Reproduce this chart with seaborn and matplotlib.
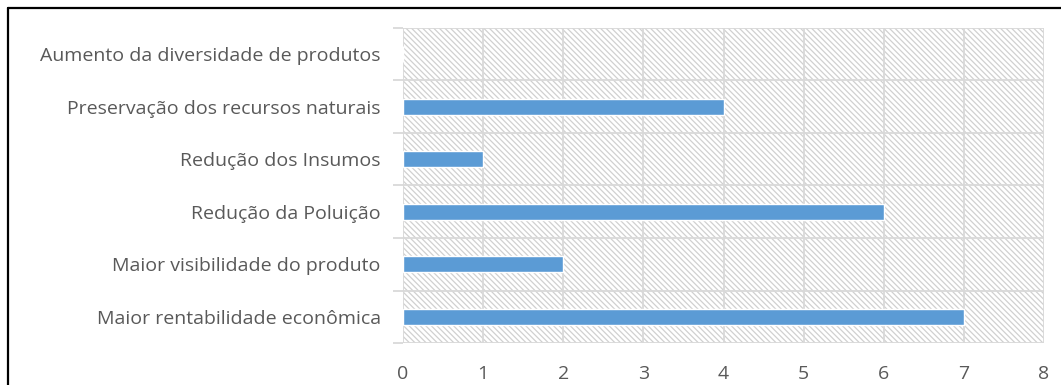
import matplotlib
matplotlib.use("Agg")
import matplotlib.pyplot as plt
from matplotlib.lines import Line2D
import seaborn as sns
import pandas as pd
import numpy as np

# Benefits listed top to bottom, with their counts
categories = [
    "Aumento da diversidade de produtos",
    "Preservação dos recursos naturais",
    "Redução dos Insumos",
    "Redução da Poluição",
    "Maior visibilidade do produto",
    "Maior rentabilidade econômica",
]
counts = [0, 4, 1, 6, 2, 7]
x_ticks = [0, 1, 2, 3, 4, 5, 6, 7, 8]

sns.set_theme(style="white")
plt.rcParams["font.family"] = ["Open Sans", "DejaVu Sans"]
plt.rcParams["hatch.color"] = "#d0d0d0"
plt.rcParams["hatch.linewidth"] = 0.9

df = pd.DataFrame({"beneficio": categories, "n": counts})

fig = plt.figure(figsize=(10.61, 3.85), dpi=100)
ax = fig.add_axes([403 / 1061, 1 - 343 / 385, (1044 - 403) / 1061, (343 - 28) / 385])

# densely hatched plot background
ax.patch.set_facecolor("white")
ax.patch.set_hatch(chr(92) * 6)
ax.patch.set_edgecolor("#d0d0d0")

sns.barplot(data=df, x="n", y="beneficio", orient="h", color="#5B9BD5",
            width=0.3, saturation=1, ax=ax, zorder=3)

ax.set_xlim(0, 8)
ax.set_ylim(len(categories) - 0.5, -0.5)
ax.set_xticks(x_ticks)
ax.set_xticklabels([str(t) for t in x_ticks])
ax.set_xlabel("")
ax.set_ylabel("")

grid_c = "#d9d9d9"
ax.set_yticks(np.arange(-0.5, len(categories)), minor=True)
ax.grid(True, axis="x", which="major", color=grid_c, linewidth=1.3, zorder=1)
ax.grid(True, axis="y", which="minor", color=grid_c, linewidth=1.3, zorder=1)
ax.grid(False, axis="y", which="major")
ax.set_axisbelow(True)

for s in ax.spines.values():
    s.set_visible(False)

ax.tick_params(axis="y", which="major", length=0, pad=16, labelsize=14, labelcolor="#595959")
ax.tick_params(axis="y", which="minor", length=7.5, width=1.3, color=grid_c, left=True)
ax.tick_params(axis="x", which="major", length=0, pad=16, labelsize=14, labelcolor="#595959")

# chart frame
fig.add_artist(Line2D([8 / 1061, 1.0], [1 - 8 / 385, 1 - 8 / 385], color="black", linewidth=1.6,
                      transform=fig.transFigure))
fig.add_artist(Line2D([8 / 1061, 8 / 1061], [0.0, 1 - 8 / 385], color="black", linewidth=1.6,
                      transform=fig.transFigure))

fig.savefig("out.png", dpi=100)
